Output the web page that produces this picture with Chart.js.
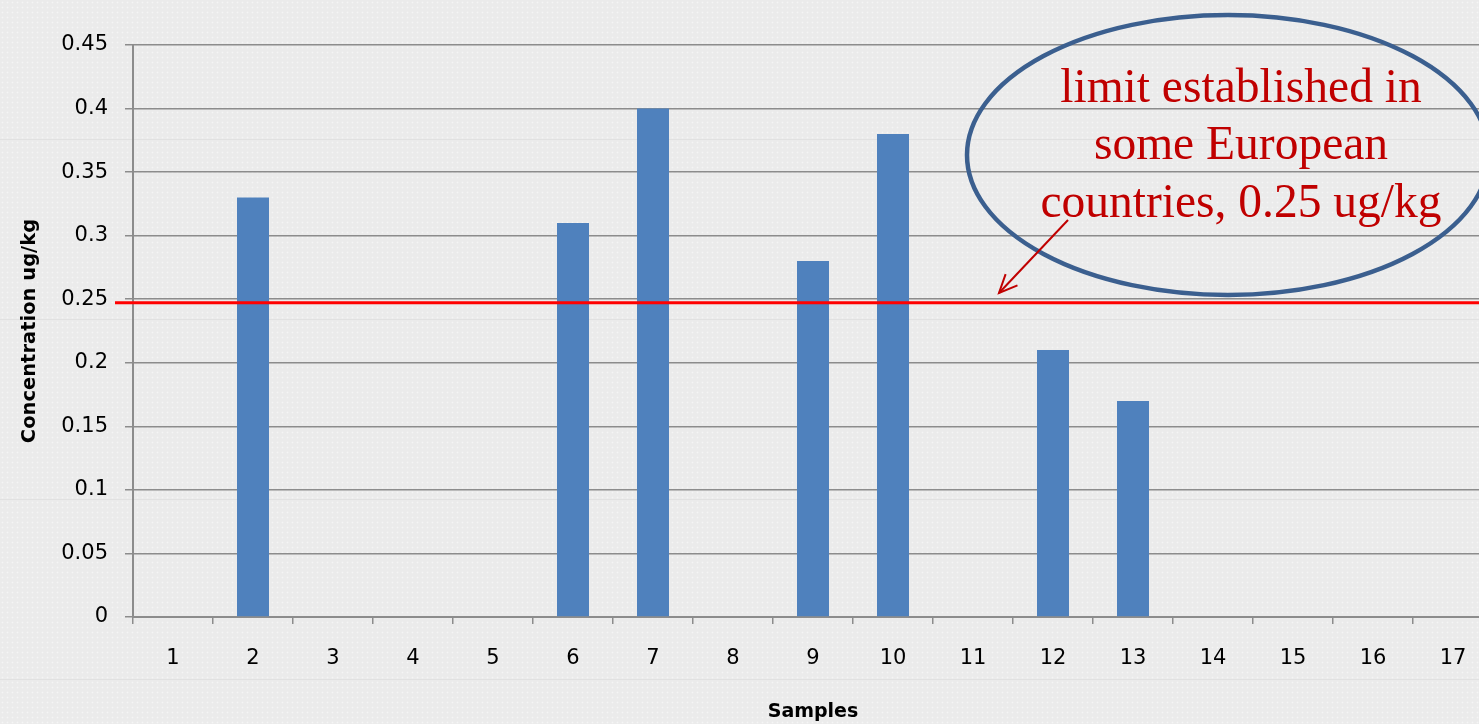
<!DOCTYPE html>
<html>
<head>
<meta charset="utf-8">
<script src="https://cdn.jsdelivr.net/npm/chart.js@4/dist/chart.umd.min.js"></script>
<style>
  html, body { margin: 0; padding: 0; overflow: hidden; }
  body { width: 1479px; height: 724px; background-color: #ebebeb; }
  #wrap {
    position: relative; width: 1479px; height: 724px; overflow: hidden;
    background-color: #ebebeb;
    background-image:
      repeating-linear-gradient(to bottom, transparent 0, transparent 139px, #e1e1e1 139px, #e1e1e1 140px, transparent 140px, transparent 180px),
      radial-gradient(circle, rgba(255,255,255,0.5) 0.7px, transparent 1.1px);
    background-size: 100% 180px, 5px 5px;
  }
  canvas { position: absolute; left: 0; top: 0; }
</style>
</head>
<body>
<div id="wrap"><canvas id="chart" width="1500" height="724"></canvas></div>
<script>
// Samples and measured concentrations (ug/kg)
const categories = ['1','2','3','4','5','6','7','8','9','10','11','12','13','14','15','16','17'];
const concentrations = [0, 0.33, 0, 0, 0, 0.31, 0.40, 0, 0.28, 0.38, 0, 0.21, 0.17, 0, 0, 0, 0];

// Value axis
const yMin = 0;
const yMax = 0.45;
const yStep = 0.05;

// Regulatory limit and its callout
const limitValue = 0.25;
const noteLines = ['limit established in', 'some European', 'countries, 0.25 ug/kg'];

const axisFont = 'DejaVu Sans';
const gridColor = '#8c8c8c';

// Limit line, callout ellipse, text and arrow drawn on top of the bars
const limitCallout = {
  id: 'limitCallout',
  afterDatasetsDraw(chart) {
    const { ctx } = chart;
    const y = chart.scales.y;
    const yLimit = y.getPixelForValue(limitValue) + 3.5;

    ctx.save();
    // red limit line
    ctx.strokeStyle = '#ff0000';
    ctx.lineWidth = 3;
    ctx.beginPath();
    ctx.moveTo(115, yLimit);
    ctx.lineTo(chart.width, yLimit);
    ctx.stroke();

    // ellipse
    ctx.strokeStyle = '#3b5f8f';
    ctx.lineWidth = 4.5;
    ctx.beginPath();
    ctx.ellipse(1228, 155, 261, 140, 0, 0, Math.PI * 2);
    ctx.stroke();

    // callout text
    ctx.fillStyle = '#c00000';
    ctx.font = '47.5px "Liberation Serif", "Times New Roman", serif';
    ctx.textAlign = 'center';
    ctx.textBaseline = 'alphabetic';
    const baselines = [102, 159, 217];
    noteLines.forEach((t, i) => ctx.fillText(t, 1241, baselines[i]));

    // arrow pointing at the limit line
    const x0 = 1068, y0 = 220, x1 = 999, y1 = 293;
    ctx.strokeStyle = '#c00000';
    ctx.lineWidth = 2;
    ctx.beginPath();
    ctx.moveTo(x0, y0);
    ctx.lineTo(x1, y1);
    ctx.stroke();
    const ang = Math.atan2(y1 - y0, x1 - x0);
    const head = 20, spread = 0.42;
    ctx.beginPath();
    ctx.moveTo(x1 - head * Math.cos(ang - spread), y1 - head * Math.sin(ang - spread));
    ctx.lineTo(x1, y1);
    ctx.lineTo(x1 - head * Math.cos(ang + spread), y1 - head * Math.sin(ang + spread));
    ctx.stroke();
    ctx.restore();
  }
};

new Chart(document.getElementById('chart'), {
  type: 'bar',
  data: {
    labels: categories,
    datasets: [{
      label: 'Concentration',
      data: concentrations,
      backgroundColor: '#4f81bd',
      borderWidth: 0,
      barPercentage: 0.4,
      categoryPercentage: 1.0
    }]
  },
  options: {
    responsive: false,
    animation: false,
    devicePixelRatio: 1,
    layout: { padding: { top: 45, right: 7, bottom: 0, left: 0 } },
    plugins: {
      legend: { display: false },
      tooltip: { enabled: false }
    },
    scales: {
      x: {
        offset: true,
        grid: {
          offset: true,
          drawOnChartArea: false,
          drawTicks: true,
          tickLength: 7,
          color: gridColor,
          lineWidth: 1.5
        },
        border: { color: gridColor, width: 2 },
        ticks: {
          color: '#000',
          padding: 22,
          maxRotation: 0,
          autoSkip: false,
          font: { family: axisFont, size: 21 }
        },
        title: {
          display: true,
          text: 'Samples',
          color: '#000',
          font: { family: axisFont, size: 19, weight: 'bold' },
          padding: { top: 0, bottom: 1 }
        },
        afterFit(scale) { scale.height = 107; }
      },
      y: {
        min: yMin,
        max: yMax,
        grid: {
          color: gridColor,
          lineWidth: 1.5,
          drawTicks: true,
          tickLength: 8
        },
        border: { color: gridColor, width: 2 },
        ticks: {
          stepSize: yStep,
          color: '#000',
          padding: 17,
          font: { family: axisFont, size: 21 },
          callback: (v) => String(Number(v.toFixed(2)))
        },
        title: {
          display: true,
          text: 'Concentration ug/kg',
          color: '#000',
          font: { family: axisFont, size: 19.5, weight: 'bold' },
          padding: { top: 18, bottom: 0 }
        },
        afterFit(scale) { scale.width = 133; }
      }
    }
  },
  plugins: [limitCallout]
});
</script>
</body>
</html>
